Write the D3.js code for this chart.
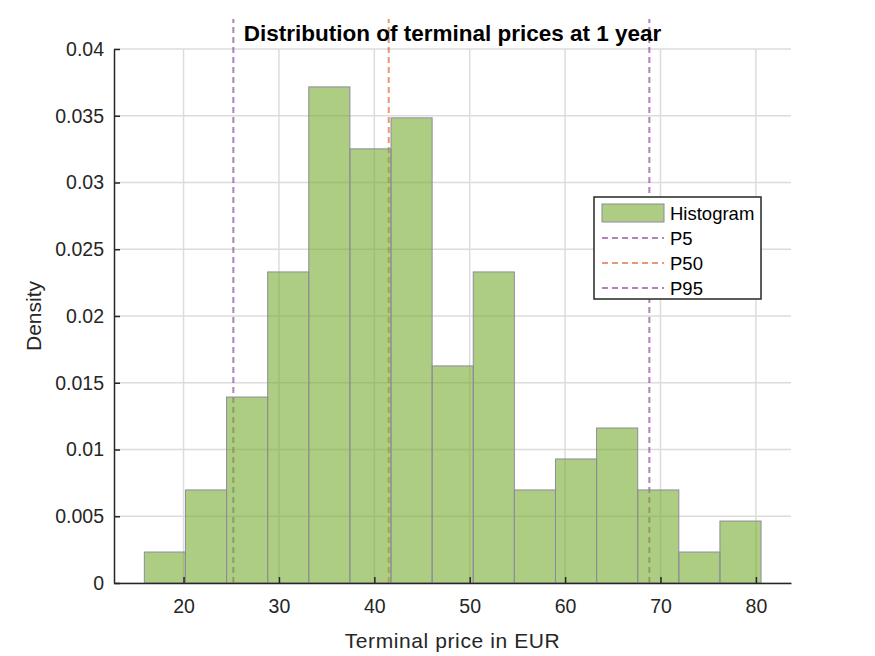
<!DOCTYPE html>
<html>
<head>
<meta charset="utf-8">
<script src="https://cdn.jsdelivr.net/npm/d3@7"></script>
<style>
  body { margin: 0; background: #fff; }
  text { font-family: Arial, "Liberation Sans", sans-serif; }
</style>
</head>
<body>
<div id="app"></div>
<script>
// Histogram bin edges (EUR) and densities
const binEdges = [15.89, 20.2, 24.51, 28.82, 33.13, 37.44, 41.75, 46.06, 50.37,
  54.68, 58.99, 63.3, 67.61, 71.92, 76.23, 80.54];
const densities = [0.00232, 0.00697, 0.01393, 0.0233, 0.03716, 0.03252, 0.03484,
  0.01626, 0.0233, 0.00697, 0.00929, 0.01161, 0.00697, 0.00232, 0.00464];
const percentiles = [
  { name: "P5", value: 25.22, color: "#7e2f8e" },
  { name: "P50", value: 41.51, color: "#d95319" },
  { name: "P95", value: 68.83, color: "#7e2f8e" }
];
const xTicks = [20, 30, 40, 50, 60, 70, 80];
const yTicks = [0, 0.005, 0.01, 0.015, 0.02, 0.025, 0.03, 0.035, 0.04];

const width = 875;
const height = 656;
const margin = { top: 49, right: 84, bottom: 73, left: 114 };

const bins = densities.map((d, i) => ({ x0: binEdges[i], x1: binEdges[i + 1], y: d }));

const xScale = d3.scaleLinear()
  .domain([12.71, 83.68])
  .range([margin.left, width - margin.right]);

const yScale = d3.scaleLinear()
  .domain([0, 0.04])
  .range([height - margin.bottom, margin.top]);

const svg = d3.select("#app")
  .append("svg")
  .attr("width", width)
  .attr("height", height);

// Grid
svg.append("g")
  .selectAll("line")
  .data(xTicks)
  .enter()
  .append("line")
  .attr("x1", (d) => xScale(d))
  .attr("x2", (d) => xScale(d))
  .attr("y1", yScale(0))
  .attr("y2", yScale(0.04))
  .attr("stroke", "#dcdcdc")
  .attr("stroke-width", 1.5);

svg.append("g")
  .selectAll("line")
  .data(yTicks)
  .enter()
  .append("line")
  .attr("x1", xScale.range()[0])
  .attr("x2", xScale.range()[1])
  .attr("y1", (d) => yScale(d))
  .attr("y2", (d) => yScale(d))
  .attr("stroke", "#dcdcdc")
  .attr("stroke-width", 1.5);

// Percentile lines (drawn under the transparent bars)
svg.append("g")
  .selectAll("line")
  .data(percentiles)
  .enter()
  .append("line")
  .attr("x1", (d) => xScale(d.value))
  .attr("x2", (d) => xScale(d.value))
  .attr("y1", yScale(0))
  .attr("y2", yScale(0.04) - 30)
  .attr("stroke", (d) => d.color)
  .attr("stroke-opacity", 0.6)
  .attr("stroke-width", 2)
  .attr("stroke-dasharray", "6,4");

// Bars
svg.append("g")
  .selectAll("rect")
  .data(bins)
  .enter()
  .append("rect")
  .attr("x", (d) => xScale(d.x0))
  .attr("width", (d) => xScale(d.x1) - xScale(d.x0))
  .attr("y", (d) => yScale(d.y))
  .attr("height", (d) => yScale(0) - yScale(d.y))
  .attr("fill", "#77ac30")
  .attr("fill-opacity", 0.6)
  .attr("stroke", "#8f8aa0")
  .attr("stroke-width", 1);

// Axes
const xAxis = d3.axisBottom(xScale).tickValues(xTicks).tickSizeInner(-6).tickSizeOuter(0).tickPadding(16);
const yAxis = d3.axisLeft(yScale).tickValues(yTicks).tickSizeInner(-6).tickSizeOuter(0).tickPadding(10)
  .tickFormat((d) => String(d));

const gx = svg.append("g")
  .attr("transform", `translate(0, ${yScale(0)})`)
  .call(xAxis);
const gy = svg.append("g")
  .attr("transform", `translate(${margin.left}, 0)`)
  .call(yAxis);

[gx, gy].forEach((g) => {
  g.select(".domain").attr("stroke", "#262626").attr("stroke-width", 1.5);
  g.selectAll(".tick line").attr("stroke", "#262626").attr("stroke-width", 1.5);
  g.selectAll(".tick text").attr("fill", "#262626").style("font-size", "19.5px")
    .style("font-family", "Arial, 'Liberation Sans', sans-serif");
});

// Title and labels
svg.append("text")
  .attr("x", (margin.left + width - margin.right) / 2)
  .attr("y", 41)
  .attr("text-anchor", "middle")
  .style("font-size", "22.5px")
  .style("font-weight", "bold")
  .attr("fill", "#000")
  .text("Distribution of terminal prices at 1 year");

svg.append("text")
  .attr("x", (margin.left + width - margin.right) / 2)
  .attr("y", 648)
  .attr("text-anchor", "middle")
  .style("font-size", "21px")
  .style("letter-spacing", "0.6px")
  .attr("fill", "#262626")
  .text("Terminal price in EUR");

svg.append("text")
  .attr("transform", `translate(41, ${yScale(0.02)}) rotate(-90)`)
  .attr("text-anchor", "middle")
  .style("font-size", "21px")
  .attr("fill", "#262626")
  .text("Density");

// Legend
const legend = svg.append("g").attr("transform", "translate(594, 197)");
legend.append("rect")
  .attr("width", 167)
  .attr("height", 102)
  .attr("fill", "#fff")
  .attr("stroke", "#262626")
  .attr("stroke-width", 1.5);

const legendItems = [{ name: "Histogram" }].concat(percentiles);
legendItems.forEach((d, i) => {
  const y = 16 + i * 25;
  if (i === 0) {
    legend.append("rect")
      .attr("x", 8)
      .attr("y", y - 9)
      .attr("width", 62)
      .attr("height", 18)
      .attr("fill", "#77ac30")
      .attr("fill-opacity", 0.6)
      .attr("stroke", "#8f8aa0");
  } else {
    legend.append("line")
      .attr("x1", 8)
      .attr("x2", 70)
      .attr("y1", y)
      .attr("y2", y)
      .attr("stroke", d.color)
      .attr("stroke-opacity", 0.6)
      .attr("stroke-width", 2)
      .attr("stroke-dasharray", "6,4");
  }
  legend.append("text")
    .attr("x", 76)
    .attr("y", y + 6.5)
    .style("font-size", "18.5px")
    .attr("fill", "#000")
    .text(d.name);
});
</script>
</body>
</html>
